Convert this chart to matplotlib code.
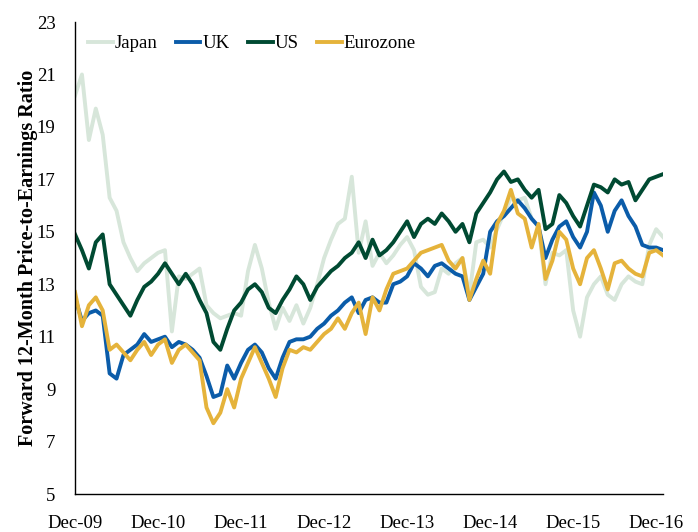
import matplotlib.pyplot as plt

# ---------------------------
# Data: forward 12-month P/E, monthly readings from Dec-09 (index 0) to Jan-17
# ---------------------------
japan = [20.2, 21.0, 18.5, 19.7, 18.7, 16.3, 15.8, 14.6, 14.0, 13.5,
         13.8, 14.0, 14.2, 14.3, 11.2, 13.3, 13.2, 13.4, 13.6, 12.2,
         11.9, 11.7, 11.8, 11.9, 11.8, 13.5, 14.5, 13.6, 12.3, 11.3,
         12.1, 11.6, 12.2, 11.5, 12.1, 13.0, 14.0, 14.7, 15.3, 15.5,
         17.1, 14.2, 15.4, 13.7, 14.2, 13.8, 14.1, 14.5, 14.8, 14.3,
         12.9, 12.6, 12.7, 13.6, 13.4, 13.8, 14.0, 12.6, 14.6, 14.7,
         14.4, 15.1, 15.7, 16.3, 16.2, 16.3, 15.5, 15.2, 13.0, 14.2,
         14.1, 14.3, 12.0, 11.0, 12.5, 13.0, 13.3, 12.6, 12.4, 13.0,
         13.3, 13.1, 13.0, 14.5, 15.1, 14.8]

uk = [12.5, 11.6, 11.9, 12.0, 11.8, 9.6, 9.4, 10.3, 10.5, 10.7,
      11.1, 10.8, 10.9, 11.0, 10.6, 10.8, 10.7, 10.5, 10.2, 9.5,
      8.7, 8.8, 9.9, 9.4, 10.0, 10.5, 10.7, 10.4, 9.8, 9.4,
      10.2, 10.8, 10.9, 10.9, 11.0, 11.3, 11.5, 11.8, 12.0, 12.3,
      12.5, 11.9, 12.4, 12.5, 12.3, 12.3, 13.0, 13.1, 13.3, 13.8,
      13.6, 13.3, 13.7, 13.8, 13.6, 13.4, 13.3, 12.4, 12.9, 13.4,
      15.0, 15.4, 15.6, 15.9, 16.2, 15.9, 15.5, 15.2, 14.0, 14.7,
      15.2, 15.4, 14.8, 14.4, 15.0, 16.5, 16.0, 15.0, 15.8, 16.2,
      15.6, 15.2, 14.5, 14.4, 14.4, 14.3]

us = [14.9, 14.3, 13.6, 14.6, 14.9, 13.0, 12.6, 12.2, 11.8, 12.4,
      12.9, 13.1, 13.4, 13.8, 13.4, 13.0, 13.4, 13.0, 12.4, 11.9,
      10.8, 10.5, 11.3, 12.0, 12.3, 12.8, 13.0, 12.7, 12.1, 11.9,
      12.4, 12.8, 13.3, 13.0, 12.4, 12.9, 13.2, 13.5, 13.7, 14.0,
      14.2, 14.6, 14.0, 14.7, 14.1, 14.3, 14.6, 15.0, 15.4, 14.8,
      15.3, 15.5, 15.3, 15.7, 15.4, 15.0, 15.3, 14.6, 15.7, 16.1,
      16.5, 17.0, 17.3, 16.9, 17.0, 16.6, 16.3, 16.6, 15.1, 15.3,
      16.4, 16.1, 15.6, 15.2, 16.0, 16.8, 16.7, 16.5, 17.0, 16.8,
      16.9, 16.2, 16.6, 17.0, 17.1, 17.2]

eurozone = [12.7, 11.4, 12.2, 12.5, 12.0, 10.5, 10.7, 10.4, 10.1, 10.5,
            10.8, 10.3, 10.7, 10.9, 10.0, 10.5, 10.7, 10.4, 10.1, 8.3,
            7.7, 8.1, 9.0, 8.3, 9.4, 10.0, 10.6, 10.0, 9.4, 8.7,
            9.8, 10.5, 10.4, 10.6, 10.5, 10.8, 11.1, 11.3, 11.7, 11.3,
            11.9, 12.3, 11.1, 12.5, 12.0, 12.8, 13.4, 13.5, 13.6, 13.9,
            14.2, 14.3, 14.4, 14.5, 13.9, 13.6, 14.0, 12.4, 13.2, 13.9,
            13.4, 15.3, 15.8, 16.6, 15.7, 15.5, 14.4, 15.3, 13.2, 13.9,
            15.0, 14.7, 13.6, 13.0, 14.0, 14.3, 13.6, 12.8, 13.8, 13.9,
            13.6, 13.4, 13.3, 14.2, 14.3, 14.1]

tick_labels = ["Dec-09", "Dec-10", "Dec-11", "Dec-12",
               "Dec-13", "Dec-14", "Dec-15", "Dec-16"]

months = list(range(len(us)))

# ---------------------------
# Plot
# ---------------------------
plt.rcParams['font.family'] = ['Liberation Serif', 'DejaVu Serif']

fig = plt.figure(figsize=(6.98, 5.32), dpi=100)
ax = fig.add_axes([0.1075, 0.0714, 0.8425, 0.8872])

lw = 2.8
ax.plot(months, japan, color="#d7e6da", lw=lw, label="Japan")
ax.plot(months, uk, color="#0b5ca9", lw=lw, label="UK")
ax.plot(months, us, color="#004a32", lw=lw, label="US")
ax.plot(months, eurozone, color="#e5b33b", lw=lw, label="Eurozone")

ax.set_xlim(0, 85)
ax.set_ylim(5, 23)
ax.set_yticks(range(5, 24, 2))
ax.set_xticks(range(0, 85, 12))
ax.set_xticklabels(tick_labels)
ax.tick_params(axis="both", length=0, labelsize=13.5)
ax.tick_params(axis="y", pad=14)
ax.tick_params(axis="x", pad=15)

for side in ["top", "right"]:
    ax.spines[side].set_visible(False)
for side in ["left", "bottom"]:
    ax.spines[side].set_linewidth(1.0)
    ax.spines[side].set_color("black")

ax.set_ylabel("Forward 12-Month Price-to-Earnings Ratio",
              fontsize=14.5, fontweight="bold", labelpad=-1)

ax.legend(loc="upper left", bbox_to_anchor=(0.0, 1.0), ncol=4, frameon=False,
          fontsize=13.5, handlelength=1.3, handletextpad=0.1,
          columnspacing=1.0, borderaxespad=0.3)

fig.savefig("out.png", dpi=100)
